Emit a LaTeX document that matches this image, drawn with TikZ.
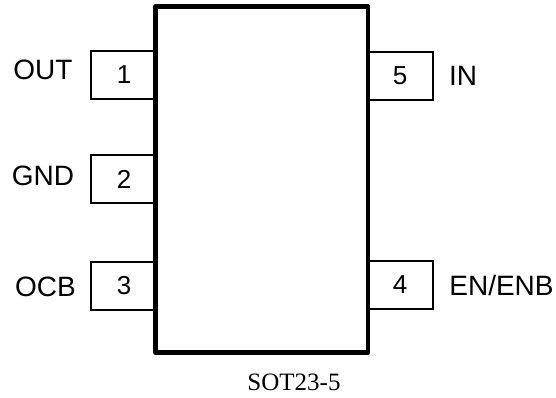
\documentclass[tikz,border=0pt]{standalone}
\usepackage{fontspec}
\setmainfont{Liberation Serif}
\setsansfont{Liberation Sans}
\tikzset{
  pinbox/.style={draw,line width=2pt,fill=white,minimum width=66pt,minimum height=48pt,inner sep=0pt,font=\sffamily\fontsize{26}{26}\selectfont},
  pinlabel/.style={inner sep=0pt,font=\sffamily\fontsize{28}{28}\selectfont},
  package/.style={draw,line width=4.5pt,line join=round,fill=white,minimum width=212.5pt,minimum height=346pt,inner sep=0pt},
}
\begin{document}
\begin{tikzpicture}[x=1pt,y=-1pt]
  \useasboundingbox (0,0) rectangle (556,398);
  \draw
    (124,75) node[pinbox] (1){1}
    (124,179) node[pinbox] (2){2}
    (124,285.5) node[pinbox] (3){3}
    (400,285) node[pinbox] (4){4}
    (400,76) node[pinbox] (5){5};
  \node[package] (body) at (261.75,179.5) {};
  \draw
    (43,70) node[pinlabel] (out){OUT}
    (43,176) node[pinlabel] (gnd){GND}
    (45.5,287) node[pinlabel] (ocb){OCB}
    (463,76) node[pinlabel] (in){IN}
    (501.5,285) node[pinlabel] (en){EN/ENB};
  \node[inner sep=0pt,font=\fontsize{25}{25}\selectfont] (name) at (294,382) {SOT23-5};
\end{tikzpicture}
\end{document}
